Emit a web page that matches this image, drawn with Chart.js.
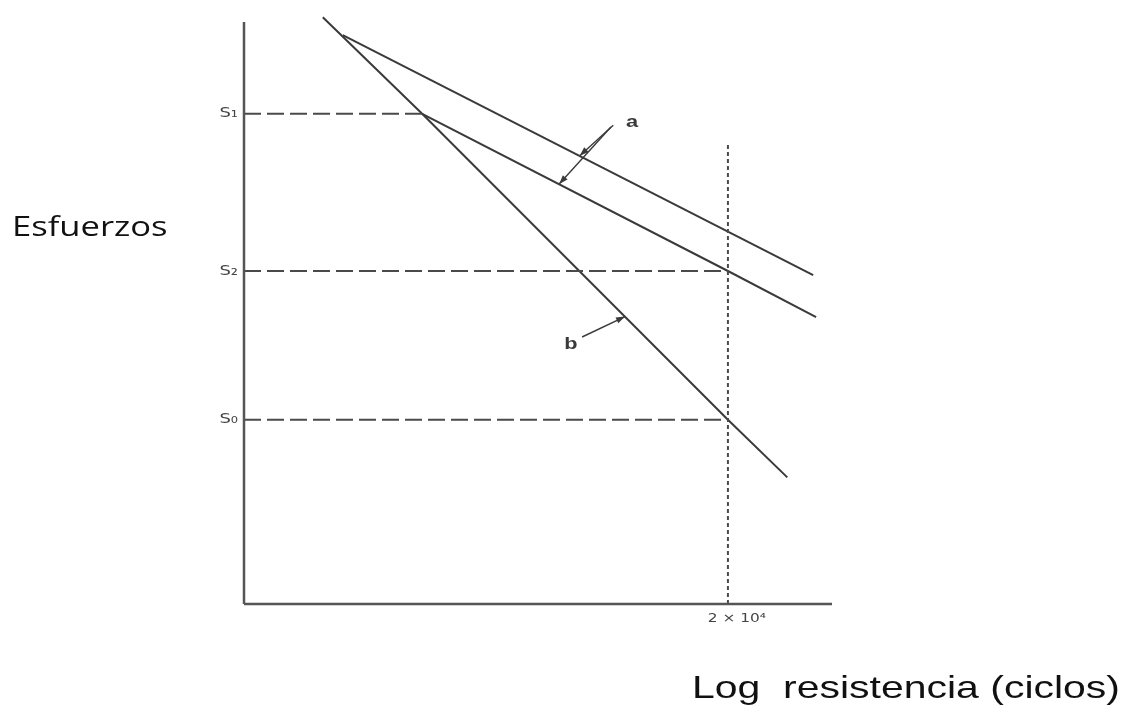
<!DOCTYPE html>
<html>
<head>
<meta charset="utf-8">
<script src="https://cdn.jsdelivr.net/npm/chart.js@4/dist/chart.umd.min.js"></script>
<style>
  html, body { margin: 0; padding: 0; background: #ffffff; }
  #wrap { width: 1129px; height: 709px; position: relative; }
</style>
</head>
<body>
<div id="wrap"><canvas id="sn" width="1129" height="709"></canvas></div>
<script>
// Fatigue (S–N) diagram: stress vs. log of endurance, in plot units.
const stressLabels = ['S\u2081', 'S\u2082', 'S\u2080'];
const stressValues = [8.17, 5.55, 3.07];
const stressLineEnds = [3.03, 8.23, 8.23];

const refCycles = 8.23;
const refCyclesLabel = '2 \u00d7 10\u2074';
const refLineTop = 7.7;

// curves "a" (two parallel) and "b" (steeper)
const curveAUpper = [[1.68, 9.48], [9.68, 5.48]];
const curveALower = [[3.03, 8.17], [8.23, 5.55], [9.73, 4.78]];
const curveB = [[1.34, 9.78], [3.03, 8.17], [8.23, 3.07], [9.24, 2.11]];

// leader arrows to the curves
const arrowsA = [[[6.28, 7.98], [5.71, 7.47]], [[6.24, 7.95], [5.36, 7.00]]];
const arrowsB = [[[5.75, 4.45], [6.48, 4.79]]];
const curveTags = ['a', 'b'];
const curveTagPos = [[6.6, 8.02], [5.56, 4.33]];

const axisX = [[0, 0], [10, 0]];
const axisY = [[0, 0], [0, 9.7]];

const yTitle = 'Esfuerzos';
const xTitle = 'Log  resistencia (ciclos)';

const ink = '#3a3a3a';
const textStretch = 1.28;   // wide lettering used throughout the figure
const toPts = arr => arr.map(p => ({ x: p[0], y: p[1] }));

const datasets = [];
function addLine(points, opts) {
  datasets.push(Object.assign({
    data: toPts(points), showLine: true, borderColor: ink, borderWidth: 2,
    pointRadius: 0, fill: false, tension: 0, clip: false
  }, opts || {}));
}

addLine(axisX, { borderColor: '#555555', borderWidth: 2.5 });
addLine(axisY, { borderColor: '#555555', borderWidth: 2.5 });
stressValues.forEach((s, i) => {
  addLine([[0, s], [stressLineEnds[i], s]], { borderDash: [17, 6], borderColor: '#4a4a4a' });
});
addLine([[refCycles, 0], [refCycles, refLineTop]], { borderDash: [4, 3], borderColor: '#4a4a4a' });
addLine(curveAUpper);
addLine(curveALower);
addLine(curveB);
arrowsA.concat(arrowsB).forEach(a => addLine(a, { borderWidth: 1.4 }));

// draws text widened horizontally about its anchor point
function wideText(ctx, text, px, py) {
  ctx.save();
  ctx.translate(px, py);
  ctx.scale(textStretch, 1);
  ctx.fillText(text, 0, 0);
  ctx.restore();
}

const annotations = {
  id: 'annotations',
  afterDatasetsDraw(chart) {
    const { ctx, scales: { x, y } } = chart;
    ctx.save();
    // arrowheads
    ctx.fillStyle = ink;
    arrowsA.concat(arrowsB).forEach(a => {
      const x0 = x.getPixelForValue(a[0][0]), y0 = y.getPixelForValue(a[0][1]);
      const x1 = x.getPixelForValue(a[1][0]), y1 = y.getPixelForValue(a[1][1]);
      const ang = Math.atan2(y1 - y0, x1 - x0);
      const L = 9, W = 3.2;
      ctx.beginPath();
      ctx.moveTo(x1, y1);
      ctx.lineTo(x1 - L * Math.cos(ang) + W * Math.sin(ang), y1 - L * Math.sin(ang) - W * Math.cos(ang));
      ctx.lineTo(x1 - L * Math.cos(ang) - W * Math.sin(ang), y1 - L * Math.sin(ang) + W * Math.cos(ang));
      ctx.closePath();
      ctx.fill();
    });
    // curve tags
    ctx.font = 'bold 17px "Liberation Sans", Arial, sans-serif';
    ctx.textAlign = 'center';
    ctx.textBaseline = 'middle';
    curveTags.forEach((t, i) => {
      wideText(ctx, t, x.getPixelForValue(curveTagPos[i][0]), y.getPixelForValue(curveTagPos[i][1]));
    });
    // stress level labels
    ctx.fillStyle = '#444444';
    ctx.font = '14px "DejaVu Sans", sans-serif';
    ctx.textAlign = 'right';
    stressLabels.forEach((t, i) => {
      wideText(ctx, t, x.getPixelForValue(0) - 6, y.getPixelForValue(stressValues[i]));
    });
    // reference cycle label
    ctx.font = '12px "DejaVu Sans", sans-serif';
    ctx.textAlign = 'center';
    ctx.textBaseline = 'top';
    wideText(ctx, refCyclesLabel, x.getPixelForValue(refCycles) + 9, y.getPixelForValue(0) + 9);
    // axis titles
    ctx.fillStyle = '#111111';
    ctx.textAlign = 'left';
    ctx.textBaseline = 'middle';
    ctx.font = '27px "Open Sans", sans-serif';
    wideText(ctx, yTitle, 12, 228);
    ctx.font = '32px "Liberation Sans", Arial, sans-serif';
    ctx.textBaseline = 'alphabetic';
    wideText(ctx, xTitle, 692, 698);
    ctx.restore();
  }
};

new Chart(document.getElementById('sn'), {
  type: 'scatter',
  data: { datasets },
  options: {
    responsive: false,
    animation: false,
    layout: { padding: { left: 244, right: 297, top: 4, bottom: 105 } },
    plugins: { legend: { display: false }, tooltip: { enabled: false } },
    scales: {
      x: { type: 'linear', min: 0, max: 10, display: false },
      y: { type: 'linear', min: 0, max: 10, display: false }
    }
  },
  plugins: [annotations]
});
</script>
</body>
</html>
